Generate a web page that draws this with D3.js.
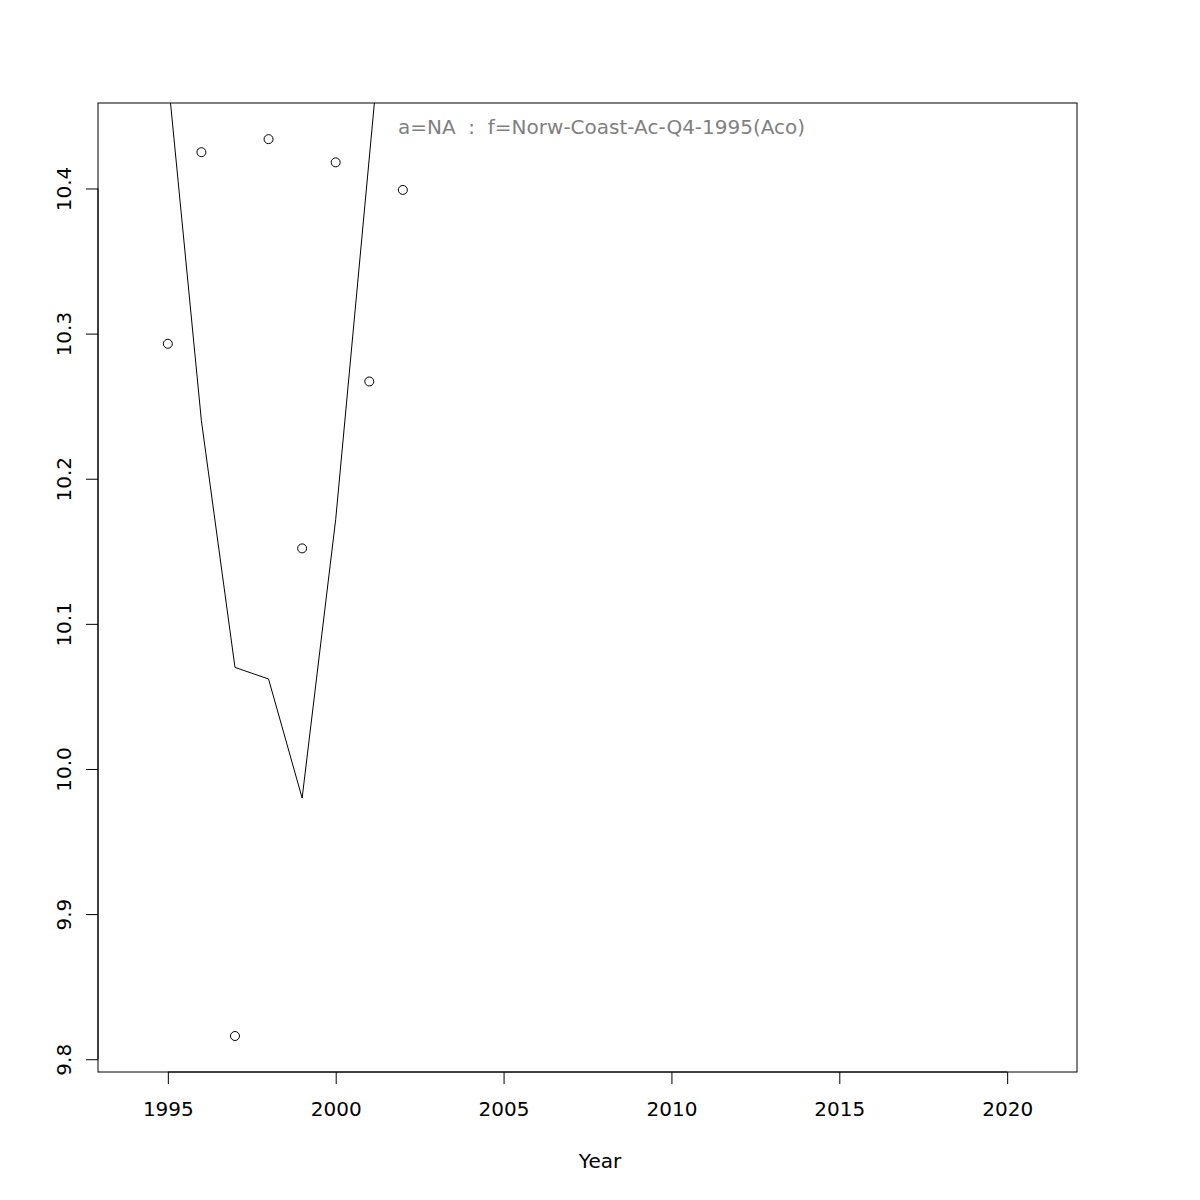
<!DOCTYPE html>
<html>
<head>
<meta charset="utf-8">
<script src="https://cdn.jsdelivr.net/npm/d3@7"></script>
<style>
  html, body { margin: 0; padding: 0; background: #fff; }
  svg { display: block; }
  text { font-family: "DejaVu Sans", sans-serif; }
</style>
</head>
<body>
<svg id="chart" width="1200" height="1200"></svg>
<script>
// ---- data ----
const years = [1995, 1996, 1997, 1998, 1999, 2000, 2001, 2002];
const observed = [10.293, 10.425, 9.816, 10.434, 10.152, 10.418, 10.267, 10.399];
const fitYears = [1995, 1996, 1997, 1998, 1999, 2000, 2001, 2002];
const fitted = [10.478, 10.240, 10.070, 10.062, 9.980, 10.172, 10.421, 10.67];
const xTicks = [1995, 2000, 2005, 2010, 2015, 2020];
const yTicks = [9.8, 9.9, 10.0, 10.1, 10.2, 10.3, 10.4];
const xDomain = [1992.92, 2022.08];
const yDomain = [9.7912, 10.4589];
const titleText = "a=NA  :  f=Norw-Coast-Ac-Q4-1995(Aco)";
const xLabel = "Year";

// ---- layout ----
const L = 98, R = 1077, T = 103, B = 1072;
const FS = 20;
const svg = d3.select("#chart");
const x = d3.scaleLinear().domain(xDomain).range([L, R]);
const y = d3.scaleLinear().domain(yDomain).range([B, T]);

svg.append("defs").append("clipPath").attr("id", "clip")
  .append("rect").attr("x", L).attr("y", T).attr("width", R - L).attr("height", B - T);

const plot = svg.append("g").attr("clip-path", "url(#clip)");

// fitted line
const line = d3.line().x((d, i) => x(fitYears[i])).y(d => y(d));
plot.append("path").datum(fitted)
  .attr("d", line).attr("fill", "none").attr("stroke", "#000").attr("stroke-width", 1);

// observed points
plot.selectAll("circle.obs").data(observed).enter().append("circle")
  .attr("class", "obs")
  .attr("cx", (d, i) => x(years[i])).attr("cy", d => y(d)).attr("r", 4.5)
  .attr("fill", "none").attr("stroke", "#000").attr("stroke-width", 1);

// box
svg.append("rect").attr("x", L).attr("y", T).attr("width", R - L).attr("height", B - T)
  .attr("fill", "none").attr("stroke", "#000").attr("stroke-width", 1);

// x axis
const xAxis = d3.axisBottom(x).tickValues(xTicks).tickSize(12).tickPadding(18).tickFormat(d3.format("d"));
const gx = svg.append("g").attr("transform", `translate(0,${B})`).call(xAxis);
gx.select(".domain").attr("d", `M${x(xTicks[0])},0H${x(xTicks[xTicks.length-1])}`).attr("stroke", "#000");
gx.selectAll("text").attr("font-size", FS).attr("fill", "#000").attr("font-family", "DejaVu Sans");
gx.selectAll("line").attr("stroke", "#000");

// y axis
const yAxis = d3.axisLeft(y).tickValues(yTicks).tickSize(12).tickFormat(d3.format(".1f"));
const gy = svg.append("g").attr("transform", `translate(${L},0)`).call(yAxis);
gy.select(".domain").attr("d", `M0,${y(yTicks[0])}V${y(yTicks[yTicks.length-1])}`).attr("stroke", "#000");
gy.selectAll("line").attr("stroke", "#000");
gy.selectAll("text")
  .attr("x", null).attr("dy", null)
  .attr("transform", "translate(-27.3,0) rotate(-90)")
  .attr("text-anchor", "middle")
  .attr("font-size", FS).attr("fill", "#000").attr("font-family", "DejaVu Sans");

// annotation
svg.append("text").attr("x", 398).attr("y", 134.3).attr("font-size", 20)
  .attr("fill", "#7f7f7f").style("white-space", "pre").attr("xml:space", "preserve")
  .text(titleText);

// x label
svg.append("text").attr("x", 600).attr("y", 1168).attr("text-anchor", "middle")
  .attr("font-size", FS).attr("fill", "#000").text(xLabel);
</script>
</body>
</html>
